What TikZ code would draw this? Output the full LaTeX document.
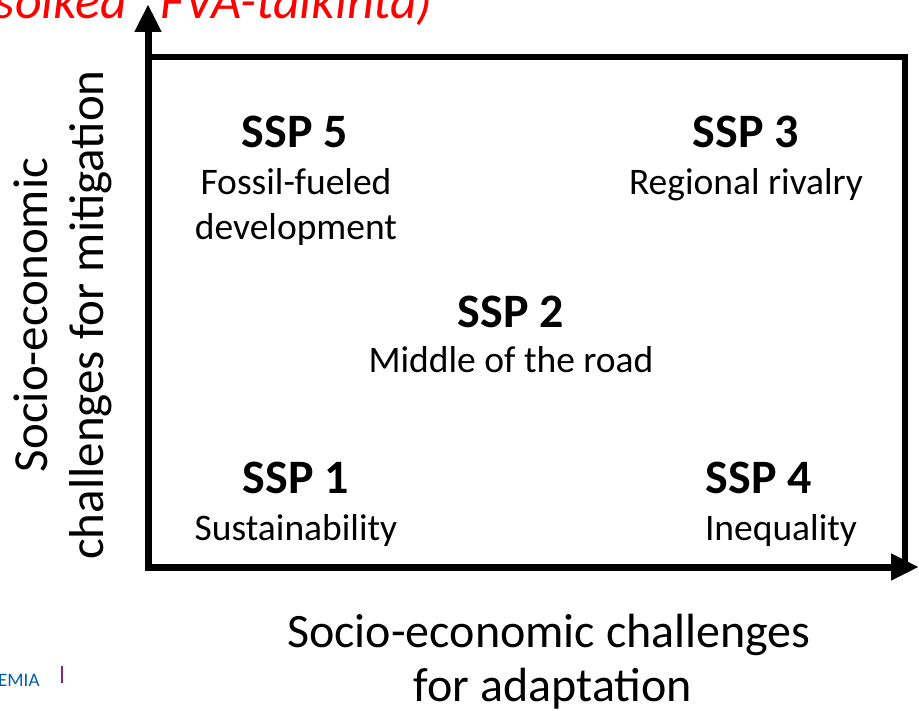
\documentclass[tikz,border=0pt]{standalone}
\usepackage{fontspec}
\setmainfont{Carlito}
\usetikzlibrary{arrows.meta}
\definecolor{emiablue}{RGB}{0,94,170}
\definecolor{barpurple}{RGB}{130,40,120}
\tikzset{
  ssp/.style={anchor=base, font=\fontsize{48}{52}\selectfont\bfseries, inner sep=0pt},
  desc/.style={anchor=base, font=\fontsize{37.5}{42}\selectfont, inner sep=0pt},
  axlabel/.style={anchor=base, font=\fontsize{48}{54}\selectfont, inner sep=0pt},
  vlabel/.style={anchor=base, rotate=90, font=\fontsize{49}{54}\selectfont, inner sep=0pt},
  axis/.style={line width=7pt, -{Triangle[length=28pt,width=25pt]}},
  frame/.style={line width=6pt}
}
\begin{document}
\begin{tikzpicture}[x=1pt,y=-1pt]
\clip (0,0) rectangle (919,711);
\fill[white] (0,0) rectangle (919,711);
% red heading (cropped)
\node[anchor=base east, inner sep=0pt, text=red, font=\fontsize{52}{58}\selectfont\itshape] (head) at (433,19) {soikea\textquotedblright\ FVA-taikinta)};
% frame
\coordinate (o) at (148,567);
\coordinate (tl) at (148,57);
\coordinate (tr) at (905,57);
\coordinate (br) at (905,567);
\coordinate (ytip) at (148,4);
\coordinate (xtip) at (919,567);
\draw[frame, line join=miter] (tl) -- (tr) -- (br);
\draw[axis] ([yshift=3.5pt]o) -- (ytip);
\draw[axis] ([xshift=-3.5pt]o) -- (xtip);
% SSP labels
\node[ssp] (s5) at (295,148) {SSP 5};
\node[desc] (s5a) at (296,195) {Fossil-fueled};
\node[desc] (s5b) at (296,240) {development};
\node[ssp] (s3) at (746,148) {SSP 3};
\node[desc] (s3a) at (746,195) {Regional rivalry};
\node[ssp] (s2) at (511,328) {SSP 2};
\node[desc] (s2a) at (511,373) {Middle of the road};
\node[ssp] (s1) at (296,493) {SSP 1};
\node[desc] (s1a) at (296,540) {Sustainability};
\node[ssp] (s4) at (759,493) {SSP 4};
\node[desc] (s4a) at (781,540) {Inequality};
% axis labels
\node[axlabel] (xl1) at (549,647) {Socio-economic challenges};
\node[axlabel] (xl2) at (553,701) {for adaptation};
\node[vlabel] (yl1) at (47,315) {Socio-economic};
\node[vlabel] (yl2) at (103,315) {challenges for mitigation};
% footer
\node[anchor=base west, inner sep=0pt, text=emiablue, font=\fontsize{19}{22}\selectfont] (emia) at (-2,686) {EMIA};
\coordinate (bar1) at (62,666);
\coordinate (bar2) at (62,683);
\draw[line width=1.5pt, barpurple] (bar1) -- (bar2);
\end{tikzpicture}
\end{document}
